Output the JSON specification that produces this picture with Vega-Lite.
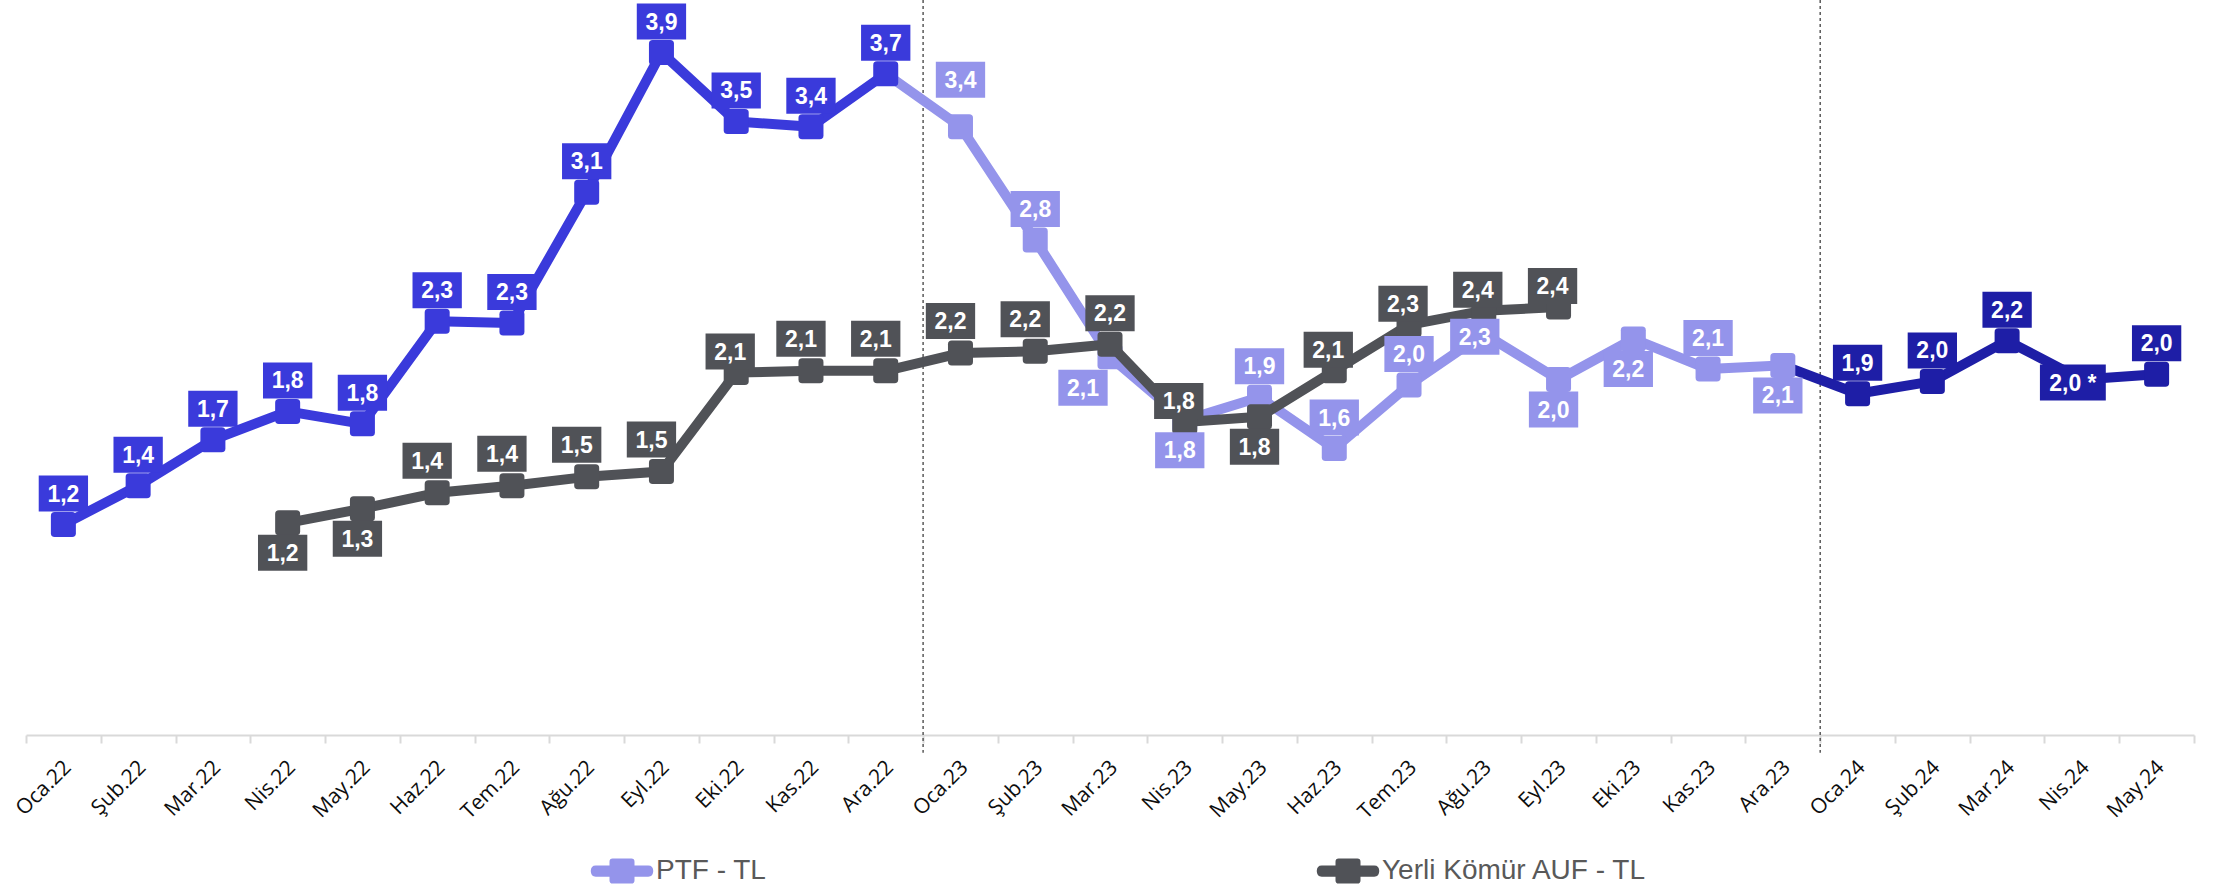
{
  "$schema": "https://vega.github.io/schema/vega-lite/v6.json",
  "autosize": {"type": "none"},
  "padding": {"left": 26, "top": 0, "right": 19, "bottom": 155},
  "width": 2168,
  "height": 735,
  "background": "#ffffff",
  "config": {"view": {"stroke": null}},
  "data": {"values": [
    {"seri": "PTF - TL", "ay": "Oca.22", "deger": 1.19, "etiket": "1,2"},
    {"seri": "PTF - TL", "ay": "Şub.22", "deger": 1.41, "etiket": "1,4"},
    {"seri": "PTF - TL", "ay": "Mar.22", "deger": 1.67, "etiket": "1,7"},
    {"seri": "PTF - TL", "ay": "Nis.22", "deger": 1.83, "etiket": "1,8"},
    {"seri": "PTF - TL", "ay": "May.22", "deger": 1.76, "etiket": "1,8"},
    {"seri": "PTF - TL", "ay": "Haz.22", "deger": 2.34, "etiket": "2,3"},
    {"seri": "PTF - TL", "ay": "Tem.22", "deger": 2.33, "etiket": "2,3"},
    {"seri": "PTF - TL", "ay": "Ağu.22", "deger": 3.07, "etiket": "3,1"},
    {"seri": "PTF - TL", "ay": "Eyl.22", "deger": 3.86, "etiket": "3,9"},
    {"seri": "PTF - TL", "ay": "Eki.22", "deger": 3.47, "etiket": "3,5"},
    {"seri": "PTF - TL", "ay": "Kas.22", "deger": 3.44, "etiket": "3,4"},
    {"seri": "PTF - TL", "ay": "Ara.22", "deger": 3.74, "etiket": "3,7"},
    {"seri": "PTF - TL", "ay": "Oca.23", "deger": 3.44, "etiket": "3,4"},
    {"seri": "PTF - TL", "ay": "Şub.23", "deger": 2.80, "etiket": "2,8"},
    {"seri": "PTF - TL", "ay": "Mar.23", "deger": 2.14, "etiket": "2,1"},
    {"seri": "PTF - TL", "ay": "Nis.23", "deger": 1.78, "etiket": "1,8"},
    {"seri": "PTF - TL", "ay": "May.23", "deger": 1.91, "etiket": "1,9"},
    {"seri": "PTF - TL", "ay": "Haz.23", "deger": 1.62, "etiket": "1,6"},
    {"seri": "PTF - TL", "ay": "Tem.23", "deger": 1.98, "etiket": "2,0"},
    {"seri": "PTF - TL", "ay": "Ağu.23", "deger": 2.27, "etiket": "2,3"},
    {"seri": "PTF - TL", "ay": "Eyl.23", "deger": 2.01, "etiket": "2,0"},
    {"seri": "PTF - TL", "ay": "Eki.23", "deger": 2.24, "etiket": "2,2"},
    {"seri": "PTF - TL", "ay": "Kas.23", "deger": 2.07, "etiket": "2,1"},
    {"seri": "PTF - TL", "ay": "Ara.23", "deger": 2.09, "etiket": "2,1"},
    {"seri": "PTF - TL", "ay": "Oca.24", "deger": 1.93, "etiket": "1,9"},
    {"seri": "PTF - TL", "ay": "Şub.24", "deger": 2.00, "etiket": "2,0"},
    {"seri": "PTF - TL", "ay": "Mar.24", "deger": 2.23, "etiket": "2,2"},
    {"seri": "PTF - TL", "ay": "Nis.24", "deger": 2.01, "etiket": "2,0 *"},
    {"seri": "PTF - TL", "ay": "May.24", "deger": 2.04, "etiket": "2,0"},
    {"seri": "Yerli Kömür AUF - TL", "ay": "Nis.22", "deger": 1.20, "etiket": "1,2"},
    {"seri": "Yerli Kömür AUF - TL", "ay": "May.22", "deger": 1.28, "etiket": "1,3"},
    {"seri": "Yerli Kömür AUF - TL", "ay": "Haz.22", "deger": 1.37, "etiket": "1,4"},
    {"seri": "Yerli Kömür AUF - TL", "ay": "Tem.22", "deger": 1.41, "etiket": "1,4"},
    {"seri": "Yerli Kömür AUF - TL", "ay": "Ağu.22", "deger": 1.46, "etiket": "1,5"},
    {"seri": "Yerli Kömür AUF - TL", "ay": "Eyl.22", "deger": 1.49, "etiket": "1,5"},
    {"seri": "Yerli Kömür AUF - TL", "ay": "Eki.22", "deger": 2.05, "etiket": "2,1"},
    {"seri": "Yerli Kömür AUF - TL", "ay": "Kas.22", "deger": 2.06, "etiket": "2,1"},
    {"seri": "Yerli Kömür AUF - TL", "ay": "Ara.22", "deger": 2.06, "etiket": "2,1"},
    {"seri": "Yerli Kömür AUF - TL", "ay": "Oca.23", "deger": 2.16, "etiket": "2,2"},
    {"seri": "Yerli Kömür AUF - TL", "ay": "Şub.23", "deger": 2.17, "etiket": "2,2"},
    {"seri": "Yerli Kömür AUF - TL", "ay": "Mar.23", "deger": 2.21, "etiket": "2,2"},
    {"seri": "Yerli Kömür AUF - TL", "ay": "Nis.23", "deger": 1.77, "etiket": "1,8"},
    {"seri": "Yerli Kömür AUF - TL", "ay": "May.23", "deger": 1.80, "etiket": "1,8"},
    {"seri": "Yerli Kömür AUF - TL", "ay": "Haz.23", "deger": 2.06, "etiket": "2,1"},
    {"seri": "Yerli Kömür AUF - TL", "ay": "Tem.23", "deger": 2.32, "etiket": "2,3"},
    {"seri": "Yerli Kömür AUF - TL", "ay": "Ağu.23", "deger": 2.40, "etiket": "2,4"},
    {"seri": "Yerli Kömür AUF - TL", "ay": "Eyl.23", "deger": 2.42, "etiket": "2,4"}
  ]},
  "transform": [
    {"calculate": "datum.seri == 'PTF - TL' ? 'PTF ' + slice(datum.ay, -2) : datum.seri", "as": "grp"},
    {"calculate": "datum.seri == 'PTF - TL' ? (datum.ay == 'Mar.23' ? 'altsol' : indexof(['Nis.23','Eyl.23','Eki.23','Ara.23'], datum.ay) >= 0 ? 'alt' : indexof(['Ağu.23','Nis.24'], datum.ay) >= 0 ? 'orta' : datum.ay == 'Oca.23' ? 'ust2' : 'ust') : (indexof(['Nis.22','May.22','May.23'], datum.ay) >= 0 ? 'alt' : indexof(['Eki.22','Nis.23','Haz.23','Tem.23','Ağu.23','Eyl.23'], datum.ay) >= 0 ? 'ustyakin' : datum.ay == 'Mar.23' ? 'ust' : 'ustg')", "as": "konum"},
    {"window": [{"op": "lag", "field": "deger", "as": "onceki"}, {"op": "lag", "field": "ay", "as": "onceki_ay"}], "groupby": ["seri"]}
  ],
  "encoding": {
    "x": {
      "field": "ay", "type": "nominal", "title": null,
      "scale": {"type": "band", "paddingInner": 0, "paddingOuter": 0,
        "domain": ["Oca.22","Şub.22","Mar.22","Nis.22","May.22","Haz.22","Tem.22","Ağu.22","Eyl.22","Eki.22","Kas.22","Ara.22","Oca.23","Şub.23","Mar.23","Nis.23","May.23","Haz.23","Tem.23","Ağu.23","Eyl.23","Eki.23","Kas.23","Ara.23","Oca.24","Şub.24","Mar.24","Nis.24","May.24"]},
      "axis": {"labelAngle": -45, "labelAlign": "right", "labelBaseline": "middle", "labelFont": "Open Sans", "labelFontSize": 21, "labelColor": "#0d0d0d", "labelPadding": 21, "labelOffset": 4, "tickBand": "extent", "tickSize": 8, "tickColor": "#D9D9D9", "tickWidth": 2, "domainColor": "#D9D9D9", "domainWidth": 2, "grid": false}
    },
    "y": {"field": "deger", "type": "quantitative", "scale": {"domain": [0, 4.157], "nice": false, "zero": true}, "axis": null},
    "color": {
      "field": "grp", "type": "nominal",
      "scale": {"domain": ["PTF 22", "PTF 23", "PTF 24", "Yerli Kömür AUF - TL"], "range": ["#3A3ADB", "#9494EB", "#1E1EA6", "#505257"]},
      "legend": {
        "values": ["PTF 23", "Yerli Kömür AUF - TL"],
        "labelExpr": "datum.label == 'PTF 23' ? 'PTF - TL' : datum.label",
        "title": null, "orient": "none", "direction": "horizontal",
        "legendX": 582, "legendY": 857, "padding": 0,
        "symbolType": "M-2.1,-0.45H-1V-0.75Q-1,-1 -0.75,-1H0.75Q1,-1 1,-0.75V-0.45H2.1Q2.5,-0.45 2.5,0Q2.5,0.45 2.1,0.45H1V0.75Q1,1 0.75,1H-0.75Q-1,1 -1,0.75V0.45H-2.1Q-2.5,0.45 -2.5,0Q-2.5,-0.45 -2.1,-0.45Z",
        "symbolSize": 625, "symbolStrokeWidth": 0, "symbolOpacity": 1,
        "labelFont": "Liberation Sans", "labelFontSize": 28, "labelColor": "#595959", "labelOffset": 20,
        "columnPadding": 549, "labelLimit": 400,
        "encode": {"symbols": {"update": {"fill": {"scale": "color", "field": "value"}, "stroke": {"value": "transparent"}, "opacity": {"value": 1}}}}
      }
    }
  },
  "layer": [
    {
      "transform": [{"filter": "datum.seri == 'PTF - TL' && (datum.ay == 'Oca.23' || datum.ay == 'Oca.24')"}],
      "mark": {"type": "rule", "strokeDash": [3, 3], "strokeWidth": 1.5},
      "encoding": {
        "x": {"field": "ay", "type": "nominal", "bandPosition": 0},
        "y": {"datum": 4.157},
        "y2": {"datum": -0.1},
        "color": {"value": "#595959"}
      }
    },
    {
      "transform": [{"filter": "datum.seri == 'PTF - TL' && datum.onceki != null"}],
      "mark": {"type": "rule", "strokeWidth": 10, "strokeCap": "round"},
      "encoding": {
        "x": {"field": "onceki_ay", "type": "nominal", "bandPosition": 0.5},
        "x2": {"field": "ay", "bandPosition": 0.5},
        "y": {"field": "onceki", "type": "quantitative"},
        "y2": {"field": "deger"}
      }
    },
    {
      "transform": [{"filter": "datum.seri == 'PTF - TL'"}],
      "mark": {"type": "point", "filled": true, "opacity": 1, "size": 625, "shape": "M-0.7,-1H0.7Q1,-1 1,-0.7V0.7Q1,1 0.7,1H-0.7Q-1,1 -1,0.7V-0.7Q-1,-1 -0.7,-1Z"}
    },
    {
      "transform": [{"filter": "datum.seri != 'PTF - TL' && datum.onceki != null"}],
      "mark": {"type": "rule", "strokeWidth": 10, "strokeCap": "round"},
      "encoding": {
        "x": {"field": "onceki_ay", "type": "nominal", "bandPosition": 0.5},
        "x2": {"field": "ay", "bandPosition": 0.5},
        "y": {"field": "onceki", "type": "quantitative"},
        "y2": {"field": "deger"}
      }
    },
    {
      "transform": [{"filter": "datum.seri != 'PTF - TL'"}],
      "mark": {"type": "point", "filled": true, "opacity": 1, "size": 625, "shape": "M-0.7,-1H0.7Q1,-1 1,-0.7V0.7Q1,1 0.7,1H-0.7Q-1,1 -1,0.7V-0.7Q-1,-1 -0.7,-1Z"}
    },
    {
      "transform": [{"filter": "datum.konum == 'ust'"}],
      "mark": {"type": "point", "filled": true, "opacity": 1, "size": 1296, "yOffset": -31},
      "encoding": {"shape": {"condition": {"test": "datum.etiket == '2,0 *'", "value": "M-1.83,-1H1.83V1H-1.83Z"}, "value": "M-1.37,-1H1.37V1H-1.37Z"}}
    },
    {
      "transform": [{"filter": "datum.konum == 'ust'"}],
      "mark": {"type": "text", "font": "Liberation Sans", "fontWeight": "bold", "fontSize": 23, "align": "center", "baseline": "middle", "yOffset": -30},
      "encoding": {"text": {"field": "etiket"}, "color": {"value": "#ffffff"}}
    },
    {
      "transform": [{"filter": "datum.konum == 'ustg'"}],
      "mark": {"type": "point", "filled": true, "opacity": 1, "size": 1296, "yOffset": -32, "xOffset": -10, "shape": "M-1.37,-1H1.37V1H-1.37Z"}
    },
    {
      "transform": [{"filter": "datum.konum == 'ustg'"}],
      "mark": {"type": "text", "font": "Liberation Sans", "fontWeight": "bold", "fontSize": 23, "align": "center", "baseline": "middle", "yOffset": -31, "xOffset": -10},
      "encoding": {"text": {"field": "etiket"}, "color": {"value": "#ffffff"}}
    },
    {
      "transform": [{"filter": "datum.konum == 'ustyakin'"}],
      "mark": {"type": "point", "filled": true, "opacity": 1, "size": 1296, "yOffset": -21, "xOffset": -6, "shape": "M-1.37,-1H1.37V1H-1.37Z"}
    },
    {
      "transform": [{"filter": "datum.konum == 'ustyakin'"}],
      "mark": {"type": "text", "font": "Liberation Sans", "fontWeight": "bold", "fontSize": 23, "align": "center", "baseline": "middle", "yOffset": -20, "xOffset": -6},
      "encoding": {"text": {"field": "etiket"}, "color": {"value": "#ffffff"}}
    },
    {
      "transform": [{"filter": "datum.konum == 'ust2'"}],
      "mark": {"type": "point", "filled": true, "opacity": 1, "size": 1296, "yOffset": -47, "shape": "M-1.37,-1H1.37V1H-1.37Z"}
    },
    {
      "transform": [{"filter": "datum.konum == 'ust2'"}],
      "mark": {"type": "text", "font": "Liberation Sans", "fontWeight": "bold", "fontSize": 23, "align": "center", "baseline": "middle", "yOffset": -46},
      "encoding": {"text": {"field": "etiket"}, "color": {"value": "#ffffff"}}
    },
    {
      "transform": [{"filter": "datum.konum == 'alt'"}],
      "mark": {"type": "point", "filled": true, "opacity": 1, "size": 1296, "yOffset": 30, "xOffset": -5, "shape": "M-1.37,-1H1.37V1H-1.37Z"}
    },
    {
      "transform": [{"filter": "datum.konum == 'alt'"}],
      "mark": {"type": "text", "font": "Liberation Sans", "fontWeight": "bold", "fontSize": 23, "align": "center", "baseline": "middle", "yOffset": 31, "xOffset": -5},
      "encoding": {"text": {"field": "etiket"}, "color": {"value": "#ffffff"}}
    },
    {
      "transform": [{"filter": "datum.konum == 'altsol'"}],
      "mark": {"type": "point", "filled": true, "opacity": 1, "size": 1296, "yOffset": 31, "xOffset": -27, "shape": "M-1.37,-1H1.37V1H-1.37Z"}
    },
    {
      "transform": [{"filter": "datum.konum == 'altsol'"}],
      "mark": {"type": "text", "font": "Liberation Sans", "fontWeight": "bold", "fontSize": 23, "align": "center", "baseline": "middle", "yOffset": 32, "xOffset": -27},
      "encoding": {"text": {"field": "etiket"}, "color": {"value": "#ffffff"}}
    },
    {
      "transform": [{"filter": "datum.konum == 'orta'"}],
      "mark": {"type": "point", "filled": true, "opacity": 1, "size": 1296, "yOffset": 3, "xOffset": -9},
      "encoding": {"shape": {"condition": {"test": "datum.etiket == '2,0 *'", "value": "M-1.83,-1H1.83V1H-1.83Z"}, "value": "M-1.37,-1H1.37V1H-1.37Z"}}
    },
    {
      "transform": [{"filter": "datum.konum == 'orta'"}],
      "mark": {"type": "text", "font": "Liberation Sans", "fontWeight": "bold", "fontSize": 23, "align": "center", "baseline": "middle", "yOffset": 4, "xOffset": -9},
      "encoding": {"text": {"field": "etiket"}, "color": {"value": "#ffffff"}}
    }
  ]
}
